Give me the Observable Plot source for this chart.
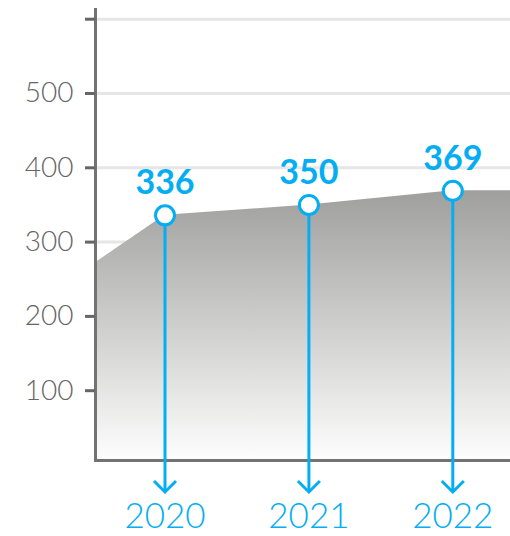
<!DOCTYPE html>
<html>
<head>
<meta charset="utf-8">
<script src="https://cdn.jsdelivr.net/npm/d3@7"></script>
<script src="https://cdn.jsdelivr.net/npm/@observablehq/plot@0.6"></script>
<style>
  html, body { margin: 0; padding: 0; background: #fff; }
</style>
</head>
<body>
<div id="chart"></div>
<script>
const years = [2020, 2021, 2022];
const values = [336, 350, 369];
const areaYears = [2019, 2020, 2021, 2022, 2023];
const areaValues = [204, 336, 350, 369, 369];
const yTicks = [100, 200, 300, 400, 500, 600];
const yTickLabels = ["100", "200", "300", "400", "500", ""];
const yearLabels = ["2020", "2021", "2022"];

const blue = "#05adf2";
const axisGray = "#737373";

const areaData = areaYears.map((x, i) => ({x, y: areaValues[i]}));
const pointData = years.map((x, i) => ({x, y: values[i], label: String(values[i]), year: yearLabels[i]}));

const chevron = {
  draw(context) {
    context.moveTo(-11, -11);
    context.lineTo(0, 0);
    context.lineTo(11, -11);
  }
};

const chart = Plot.plot({
  width: 510,
  height: 536,
  marginLeft: 95,
  marginRight: 0,
  marginTop: 9,
  marginBottom: 76,
  style: {fontFamily: "Lato, 'Open Sans', sans-serif", background: "#fff"},
  x: {domain: [2020, 2022], range: [164.5, 452.3], axis: null},
  y: {domain: [0, 600], range: [464.5, 18.7], axis: null},
  marks: [
    Plot.gridY(yTicks, {stroke: "#e6e6e6", strokeOpacity: 1, strokeWidth: 3}),
    Plot.areaY(areaData, {x: "x", y: "y", fill: "url(#areaGrad)", clip: true}),
    Plot.frame({anchor: "left", stroke: axisGray, strokeWidth: 3}),
    Plot.frame({anchor: "bottom", stroke: axisGray, strokeWidth: 3}),
    Plot.axisY(yTicks, {
      label: null,
      tickSize: 10, tickPadding: 12, strokeWidth: 3, stroke: "#666", fill: "#666",
      tickFormat: (d, i) => yTickLabels[i], fontSize: 28, fontWeight: 300
    }),
    Plot.ruleX(pointData, {x: "x", y1: "y", y2: 0, stroke: blue, strokeWidth: 3, insetBottom: -27}),
    Plot.dot(pointData, {x: "x", y: 0, dy: 27, symbol: chevron, fill: "none", stroke: blue, strokeWidth: 3, r: 6}),
    Plot.dot(pointData, {x: "x", y: "y", r: 9.5, fill: "white", stroke: blue, strokeWidth: 3}),
    Plot.text(pointData, {x: "x", y: "y", text: "label", dy: -21, lineAnchor: "bottom", fontSize: 34, fontWeight: 700, fill: blue, style: {letterSpacing: "0.5px"}}),
    Plot.text(pointData, {x: "x", y: 0, text: "year", dy: 63, lineAnchor: "bottom", fontSize: 35, fontWeight: 300, fill: blue, style: {letterSpacing: "0.5px"}})
  ]
});

const defs = d3.select(chart).insert("defs", ":first-child");
const grad = defs.append("linearGradient").attr("id", "areaGrad")
  .attr("x1", 0).attr("y1", 0).attr("x2", 0).attr("y2", 1);
grad.append("stop").attr("offset", 0).attr("stop-color", "#9f9f9d");
grad.append("stop").attr("offset", 1).attr("stop-color", "#ffffff");

document.getElementById("chart").appendChild(chart);
</script>
</body>
</html>
